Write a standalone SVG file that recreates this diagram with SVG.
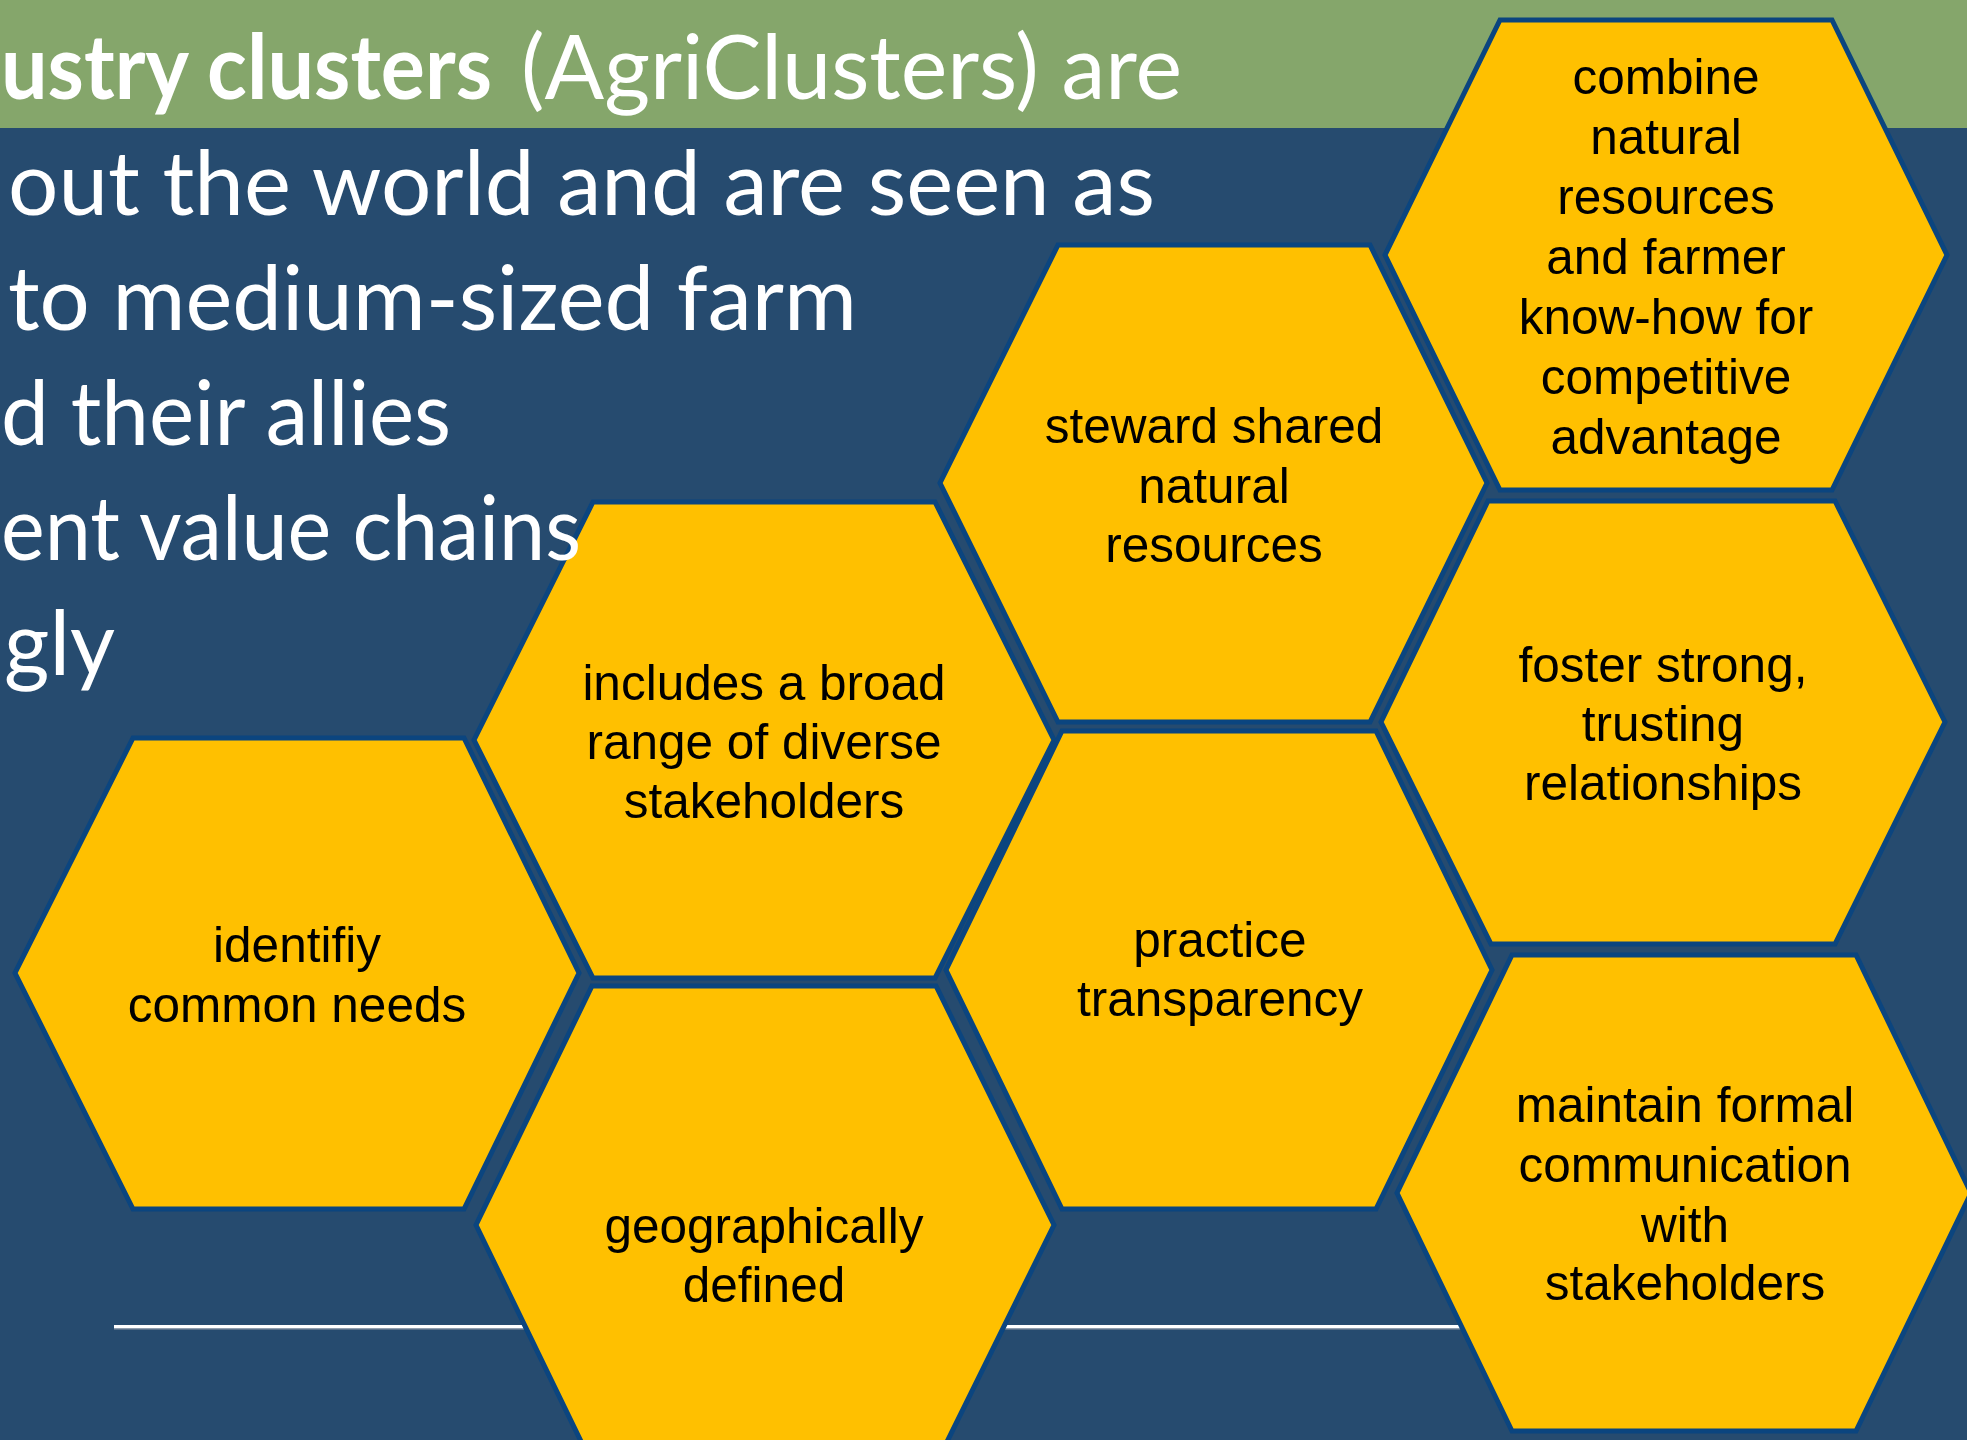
<svg xmlns="http://www.w3.org/2000/svg" width="1967" height="1440" viewBox="0 0 1967 1440">
<style>
.hex{fill:#FFC000;stroke:#0B457F;stroke-width:5;stroke-linejoin:miter}
.lbl{font-family:"Liberation Sans",Arial,sans-serif;font-size:49.5px;fill:#000;text-anchor:middle}
.body{font-family:Lato,"Open Sans",sans-serif;font-size:90px;fill:#fff}
.bold{font-weight:bold}
</style>
<rect x="0" y="0" width="1967" height="1440" fill="#264B6F"/>
<rect x="0" y="0" width="1967" height="128" fill="#85A66B"/>
<g id="rule">
<rect x="114" y="1325" width="1390" height="3.5" fill="#FFFFFF"/>
<rect x="114" y="1328.5" width="1390" height="1" fill="#8C96A3"/>
</g>
<g id="connectors"></g>
<g id="hex-combine">
<polygon class="hex" points="1500,20 1832,20 1947,255 1832,490 1500,490 1385,255"/>
<text class="lbl"><tspan x="1666" y="94">combine</tspan><tspan x="1666" y="154">natural</tspan><tspan x="1666" y="214">resources</tspan><tspan x="1666" y="274">and farmer</tspan><tspan x="1666" y="334">know-how for</tspan><tspan x="1666" y="394">competitive</tspan><tspan x="1666" y="454">advantage</tspan></text>
</g>
<g id="hex-steward">
<polygon class="hex" points="1058,245 1370,245 1487,483 1370,722 1058,722 940,483"/>
<text class="lbl"><tspan x="1214" y="443">steward shared</tspan><tspan x="1214" y="503">natural</tspan><tspan x="1214" y="562">resources</tspan></text>
</g>
<g id="hex-includes">
<polygon class="hex" points="593,502 935,502 1054,740 935,978 593,978 474,740"/>
<text class="lbl"><tspan x="764" y="700">includes a broad</tspan><tspan x="764" y="759">range of diverse</tspan><tspan x="764" y="818">stakeholders</tspan></text>
</g>
<g id="hex-identify">
<polygon class="hex" points="133,738 464,738 579,973 464,1209 133,1209 15,973"/>
<text class="lbl"><tspan x="297" y="962">identifiy</tspan><tspan x="297" y="1022">common needs</tspan></text>
</g>
<g id="hex-geographically">
<polygon class="hex" points="592,986 936,986 1054,1225 936,1464 592,1464 476,1225"/>
<text class="lbl"><tspan x="764" y="1243">geographically</tspan><tspan x="764" y="1302">defined</tspan></text>
</g>
<g id="hex-transparency">
<polygon class="hex" points="1062,731 1376,731 1492,970 1376,1209 1062,1209 946,970"/>
<text class="lbl"><tspan x="1220" y="957">practice</tspan><tspan x="1220" y="1016">transparency</tspan></text>
</g>
<g id="hex-foster">
<polygon class="hex" points="1488,501 1835,501 1945,722 1835,944 1491,944 1381,722"/>
<text class="lbl"><tspan x="1663" y="682">foster strong,</tspan><tspan x="1663" y="741">trusting</tspan><tspan x="1663" y="800">relationships</tspan></text>
</g>
<g id="hex-maintain">
<polygon class="hex" points="1512,955 1856,955 1971,1193 1856,1431 1512,1431 1397,1193"/>
<text class="lbl"><tspan x="1685" y="1122">maintain formal</tspan><tspan x="1685" y="1182">communication</tspan><tspan x="1685" y="1242">with</tspan><tspan x="1685" y="1300">stakeholders</tspan></text>
</g>
<g id="heading">
<text class="body bold" x="1" y="99" textLength="491" lengthAdjust="spacingAndGlyphs">ustry clusters</text>
<text class="body" x="521" y="99" textLength="661" lengthAdjust="spacingAndGlyphs">(AgriClusters) are</text>
<text class="body" x="8" y="215" textLength="1147" lengthAdjust="spacingAndGlyphs">out the world and are seen as</text>
<text class="body" x="8" y="330" textLength="849" lengthAdjust="spacingAndGlyphs">to medium-sized farm</text>
<text class="body" x="1" y="445" textLength="450" lengthAdjust="spacingAndGlyphs">d their allies</text>
<text class="body" x="1" y="560" textLength="580" lengthAdjust="spacingAndGlyphs">ent value chains</text>
<text class="body" x="4" y="675" textLength="111" lengthAdjust="spacingAndGlyphs">gly</text>
</g>
</svg>
